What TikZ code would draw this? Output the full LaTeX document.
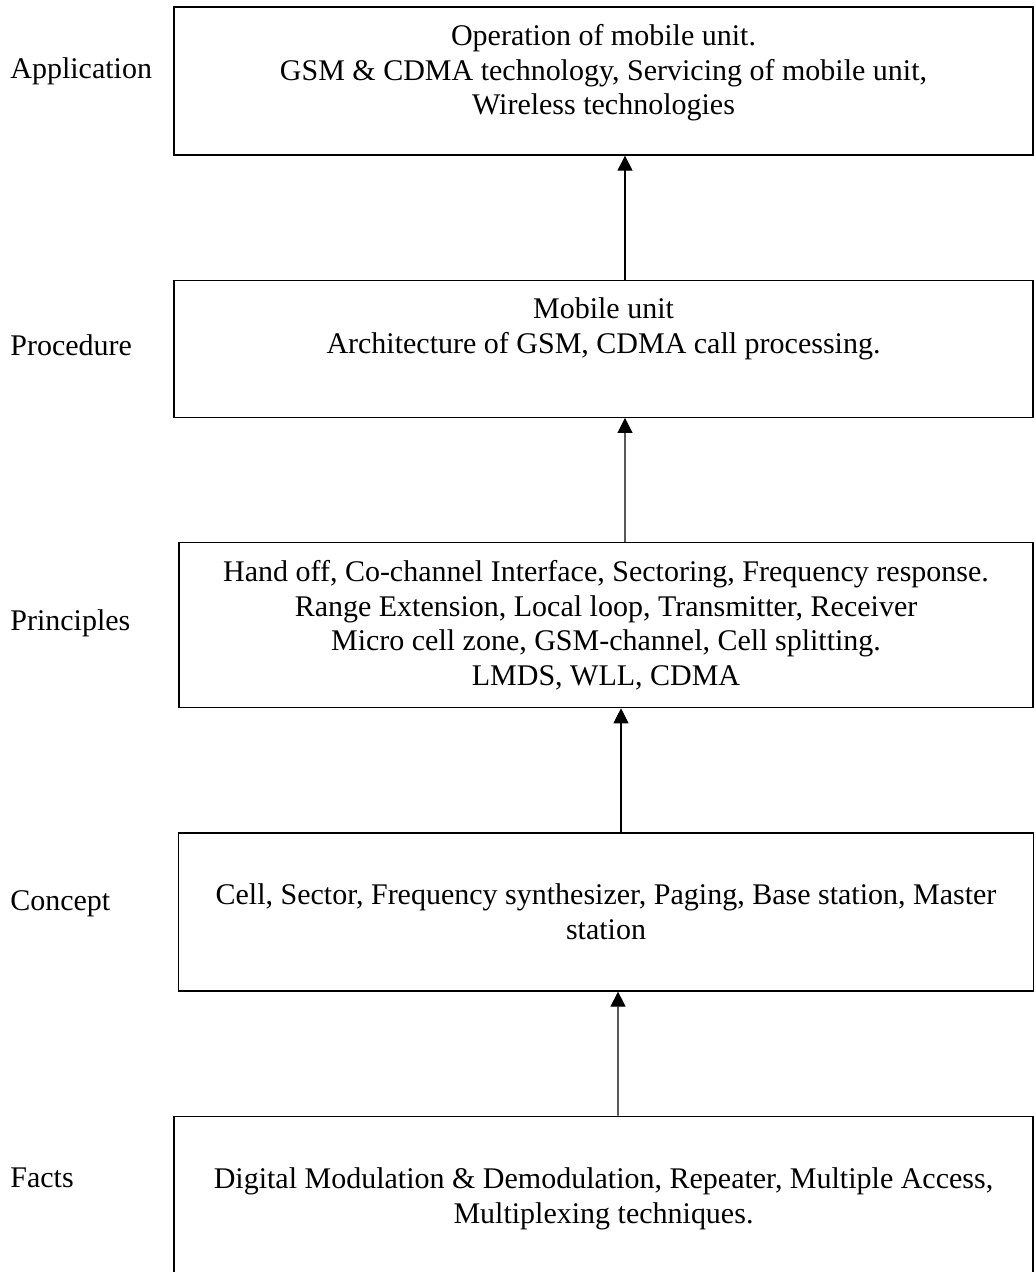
\documentclass[tikz,border=0pt]{standalone}
\usepackage{fontspec}
\setmainfont{Liberation Serif}
\usepackage{tikz}
\usetikzlibrary{positioning,arrows.meta}
\tikzstyle{level}=[draw,line width=0.75pt,minimum width=17.18cm,align=center,inner sep=0pt]
\tikzstyle{lines}=[align=center,inner sep=0pt]
\tikzstyle{tag}=[anchor=base west,inner sep=0pt]

\begin{document}
\begin{tikzpicture}[node distance=2.48cm]
\tikzstyle{every node}=[font=\fontsize{17.07}{19.63}\selectfont]
\tikzstyle{link}=[-{Triangle[width=0.3cm,length=0.3cm]},line width=0.6pt]
\useasboundingbox (0,0) rectangle (20.7,-25.44);
\node (app) [level,minimum height=2.96cm] at (12.07,-1.62) {};
\node (proc) [level,minimum height=2.74cm,below=of app] {};
\node (princ) [level,minimum width=17.08cm,minimum height=3.3cm,below=of proc,xshift=0.05cm] {Hand off, Co-channel Interface, Sectoring, Frequency response.\\Range Extension, Local loop, Transmitter, Receiver\\Micro cell zone, GSM-channel, Cell splitting.\\LMDS, WLL, CDMA};
\node (conc) [level,minimum width=17.1cm,minimum height=3.16cm,below=of princ] {Cell, Sector, Frequency synthesizer, Paging, Base station, Master\\station};
\node (facts) [level,minimum height=3.3cm,below=of conc,xshift=-0.05cm] {Digital Modulation \& Demodulation, Repeater, Multiple Access,\\Multiplexing techniques.};

\node (apptext) [lines,below=0.36cm of app.north] {Operation of mobile unit.\\GSM \& CDMA technology, Servicing of mobile unit,\\Wireless technologies};
\node (proctext) [lines,below=0.36cm of proc.north] {Mobile unit\\Architecture of GSM, CDMA call processing.};

\node (tapp) [tag] at (0.2,-1.58) {Application};
\node (tproc) [tag] at (0.2,-7.10) {Procedure};
\node (tprinc) [tag] at (0.2,-12.6) {Principles};
\node (tconc) [tag] at (0.2,-18.2) {Concept};
\node (tfacts) [tag] at (0.2,-23.74) {Facts};

\draw[link] ([xshift=0.43cm]proc.north) -- ([xshift=0.43cm]app.south);
\draw[link] ([xshift=0.38cm]princ.north) -- ([xshift=0.43cm]proc.south);
\draw[link] ([xshift=0.30cm]conc.north) -- ([xshift=0.30cm]princ.south);
\draw[link] ([xshift=0.29cm]facts.north) -- ([xshift=0.24cm]conc.south);
\end{tikzpicture}
\end{document}
